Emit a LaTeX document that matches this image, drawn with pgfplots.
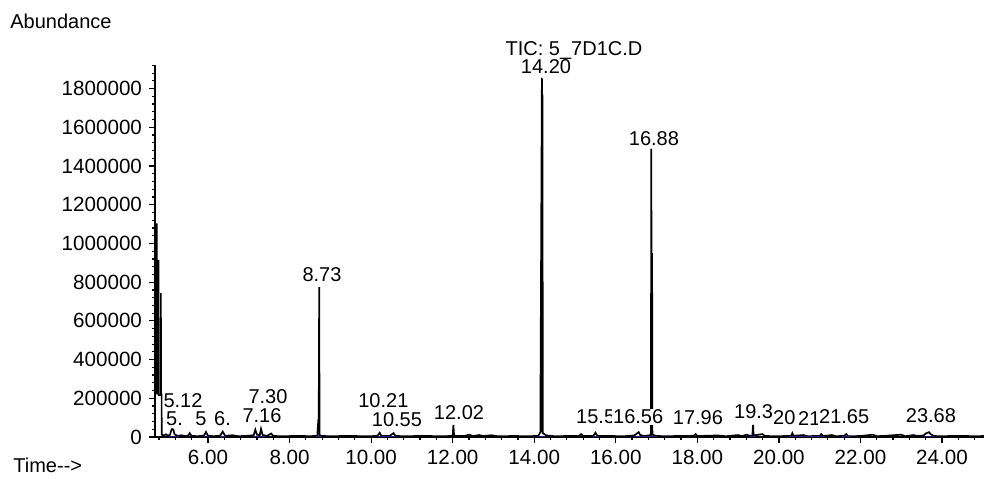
\documentclass[border=0pt]{standalone}
\usepackage{pgfplots}
\pgfplotsset{compat=1.18}
\usepackage{fontspec}
\setmainfont{Liberation Sans}
\definecolor{navy}{RGB}{30,30,130}
\newcommand\lab{\fontsize{10.3}{12}\selectfont}
\begin{document}
\begin{tikzpicture}
\begin{axis}[
  at={(0,0)}, anchor=south west,
  width=414.5pt, height=186pt, scale only axis,
  xmin=4.70, xmax=25.03, ymin=0, ymax=1922000,
  clip=false,
  axis lines=left,
  axis line style={-, line width=0.9pt, black},
  xtick={6,8,10,12,14,16,18,20,22,24},
  minor xtick={4.8,5.2,5.6,6,6.4,6.8,7.2,7.6,8,8.4,8.8,9.2,9.6,10,10.4,10.8,11.2,11.6,12,12.4,12.8,13.2,13.6,14,14.4,14.8,15.2,15.6,16,16.4,16.8,17.2,17.6,18,18.4,18.8,19.2,19.6,20,20.4,20.8,21.2,21.6,22,22.4,22.8,23.2,23.6,24,24.4,24.8},
  ytick={0,200000,400000,600000,800000,1000000,1200000,1400000,1600000,1800000},
  minor ytick={40000,80000,120000,160000,200000,240000,280000,320000,360000,400000,440000,480000,520000,560000,600000,640000,680000,720000,760000,800000,840000,880000,920000,960000,1000000,1040000,1080000,1120000,1160000,1200000,1240000,1280000,1320000,1360000,1400000,1440000,1480000,1520000,1560000,1600000,1640000,1680000,1720000,1760000,1800000,1840000,1880000,1920000},
  scaled y ticks=false,
  /pgf/number format/assume math mode=true,
  xticklabel style={/pgf/number format/.cd, fixed, fixed zerofill, precision=2, /tikz/.cd, font=\lab},
  yticklabel style={/pgf/number format/.cd, fixed, 1000 sep={}, /tikz/.cd, font=\lab},
  tick align=outside,
  major tick length=3pt,
  minor tick length=1.6pt,
  tick style={line width=0.6pt, black},
  every node/.append style={font=\lab},
]
\addplot[black, line width=0.85pt, line join=miter] coordinates {
(4.700,1100000) (4.745,1100000) (4.747,225000) (4.784,225000) (4.786,915000)
(4.789,217000) (4.842,217000) (4.844,744000) (4.847,220000) (4.862,220000)
(4.864,12000) (4.92,8000) (4.97,14000) (5.02,6000)
(5.07,12000) (5.10,35000) (5.12,42000) (5.15,38000) (5.18,14000) (5.25,6000)
(5.35,9000) (5.45,4000) (5.52,8000) (5.55,20000) (5.60,6000) (5.75,4000)
(5.90,7000) (5.95,26000) (6.00,6000) (6.15,4000) (6.30,7000) (6.36,28000)
(6.42,6000) (6.60,9000) (6.75,4000) (6.95,6000) (7.12,9000) (7.16,38000)
(7.20,12000) (7.27,10000) (7.30,42000) (7.34,10000) (7.45,6000) (7.55,18000)
(7.60,5000) (7.90,4000) (8.20,6000) (8.50,4000) (8.68,6000) (8.70,70000)
(8.715,60000) (8.727,775000) (8.735,10000) (8.80,5000) (9.10,4000) (9.40,6000)
(9.80,4000) (10.15,5000) (10.21,22000) (10.25,6000) (10.45,5000) (10.55,20000)
(10.60,5000) (10.90,4000) (11.30,6000) (11.60,4000) (12.00,5000) (12.018,62000)
(12.035,5000) (12.30,6000) (12.40,12000) (12.50,5000) (12.65,10000) (12.75,5000)
(12.95,9000) (13.10,4000) (13.50,5000) (13.90,4000) (14.10,6000) (14.15,25000)
(14.188,1855000) (14.195,25000) (14.202,1767000) (14.21,20000) (14.30,8000)
(14.50,4000) (14.80,5000) (15.10,6000) (15.15,15000) (15.20,5000) (15.45,6000)
(15.50,22000) (15.55,6000) (15.90,5000) (16.20,4000) (16.45,8000) (16.50,15000)
(16.56,25000) (16.60,10000) (16.70,5000) (16.86,10000) (16.872,1490000)
(16.878,15000) (16.89,950000) (16.898,12000) (17.00,5000) (17.30,4000)
(17.60,6000) (17.90,5000) (17.96,15000) (18.00,5000) (18.50,8000) (18.70,4000)
(19.00,10000) (19.10,4000) (19.20,12000) (19.30,6000) (19.35,8000) (19.365,62000) (19.38,8000)
(19.60,15000) (19.65,5000) (20.00,4000) (20.30,6000) (20.33,20000) (20.36,6000)
(20.60,10000) (20.70,4000) (21.00,6000) (21.04,15000) (21.08,5000) (21.30,10000)
(21.40,4000) (21.60,6000) (21.65,15000) (21.70,4000) (22.00,5000) (22.30,12000)
(22.40,4000) (22.60,6000) (23.00,12000) (23.10,4000) (23.30,10000) (23.40,5000)
(23.55,8000) (23.60,18000) (23.68,25000) (23.72,15000) (23.80,5000) (24.00,4000)
(24.40,6000) (24.80,4000) (25.03,5000)
};
\addplot[navy, line width=0.6pt, unbounded coords=jump] coordinates {
(5.05,2000) (5.30,2000) (5.30,nan)
(5.90,2000) (6.02,2000) (6.02,nan)
(6.30,2000) (6.45,2000) (6.45,nan)
(7.10,2000) (7.40,2000) (7.40,nan)
(8.65,2000) (8.80,2000) (8.80,nan)
(10.15,2000) (10.62,2000) (10.62,nan)
(14.10,2000) (14.30,2000) (14.30,nan)
(15.45,2000) (15.60,2000) (15.60,nan)
(16.45,2000) (17.00,2000) (17.00,nan)
(19.30,2000) (19.45,2000) (19.45,nan)
(20.25,2000) (21.10,2000) (21.10,nan)
(21.55,2000) (21.75,2000) (21.75,nan)
(23.55,2000) (23.80,2000)
};
% axis titles
\node[anchor=west, inner sep=0pt] at (axis cs:1.144,2150000) {Abundance};
\node[anchor=west, inner sep=0pt] at (axis cs:1.218,-144700) {Time-{}-{}>};
% peak labels
\begin{scope}[every node/.append style={fill=white, inner sep=0.4pt}]
\node at (axis cs:14.975,1995000) {TIC: 5\_7D1C.D};
\node at (axis cs:14.288,1912000) {14.20};
\node at (axis cs:16.936,1540000) {16.88};
\node at (axis cs:8.795,837000) {8.73};
\node at (axis cs:5.387,186000) {5.12};
\node[anchor=west] at (axis cs:4.945,94000) {5.};
\node at (axis cs:5.828,94000) {5};
\node[anchor=west] at (axis cs:6.122,94000) {6.};
\node at (axis cs:7.324,110000) {7.16};
\node at (axis cs:7.471,210000) {7.30};
\node at (axis cs:10.30,190000) {10.21};
\node at (axis cs:10.634,91000) {10.55};
\node at (axis cs:12.155,124000) {12.02};
\node[anchor=west] at (axis cs:15.0,104000) {15.5};
\node[anchor=west] at (axis cs:15.907,104000) {16.56};
\node at (axis cs:18.015,98000) {17.96};
\node[anchor=west] at (axis cs:18.874,129000) {19.3};
\node[anchor=west] at (axis cs:19.83,98000) {20};
\node[anchor=west] at (axis cs:20.443,98000) {21};
\node[anchor=west] at (axis cs:20.958,103000) {21.65};
\node at (axis cs:23.729,108500) {23.68};
\end{scope}
\end{axis}
\pgfresetboundingbox
\useasboundingbox (-77.5pt,-20.5pt) rectangle (414.5pt,218.5pt);
\end{tikzpicture}
\end{document}
